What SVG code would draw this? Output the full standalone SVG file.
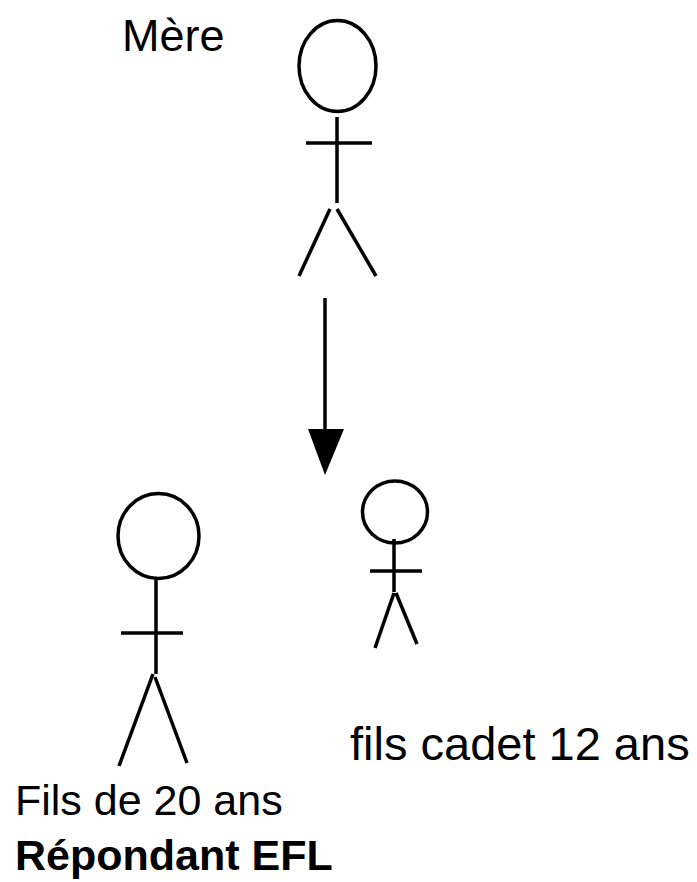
<svg xmlns="http://www.w3.org/2000/svg" width="697" height="882" viewBox="0 0 697 882">
<style>
.s{fill:none;stroke:#000;stroke-width:3.5;stroke-linecap:butt}
.t{font-family:"Liberation Sans",Arial,sans-serif;fill:#000}
</style>
<rect width="697" height="882" fill="#fff"/>
<g id="mere">
<ellipse class="s" cx="337.5" cy="66" rx="38.5" ry="45.5"/>
<line class="s" x1="337" y1="117" x2="337" y2="203"/>
<line class="s" x1="306" y1="143" x2="372" y2="143"/>
<line class="s" x1="330" y1="209" x2="299" y2="276"/>
<line class="s" x1="337" y1="209" x2="376" y2="276"/>
<text class="t" x="122" y="51" font-size="45">Mère</text>
</g>
<g id="fils20">
<ellipse class="s" cx="158.5" cy="536" rx="40.5" ry="42.5"/>
<line class="s" x1="156" y1="578" x2="156" y2="674"/>
<line class="s" x1="121" y1="633" x2="183" y2="633"/>
<line class="s" x1="153" y1="674" x2="119" y2="766"/>
<line class="s" x1="155" y1="677" x2="187" y2="763"/>
<text class="t" x="15" y="815" font-size="43">Fils de 20 ans</text>
<text class="t" x="15" y="870" font-size="43" font-weight="bold">Répondant EFL</text>
</g>
<g id="fils12">
<ellipse class="s" cx="395" cy="512" rx="32.5" ry="31"/>
<line class="s" x1="394" y1="539" x2="394" y2="592"/>
<line class="s" x1="370" y1="571" x2="422" y2="571"/>
<line class="s" x1="394" y1="593" x2="375" y2="648"/>
<line class="s" x1="396" y1="593" x2="417" y2="644"/>
<text class="t" x="350" y="760" font-size="47">fils cadet 12 ans</text>
</g>
<g id="connectors">
<line class="s" x1="325" y1="298" x2="325" y2="432"/>
<polygon points="308,429 344,429 325,475" fill="#000"/>
</g>
</svg>
